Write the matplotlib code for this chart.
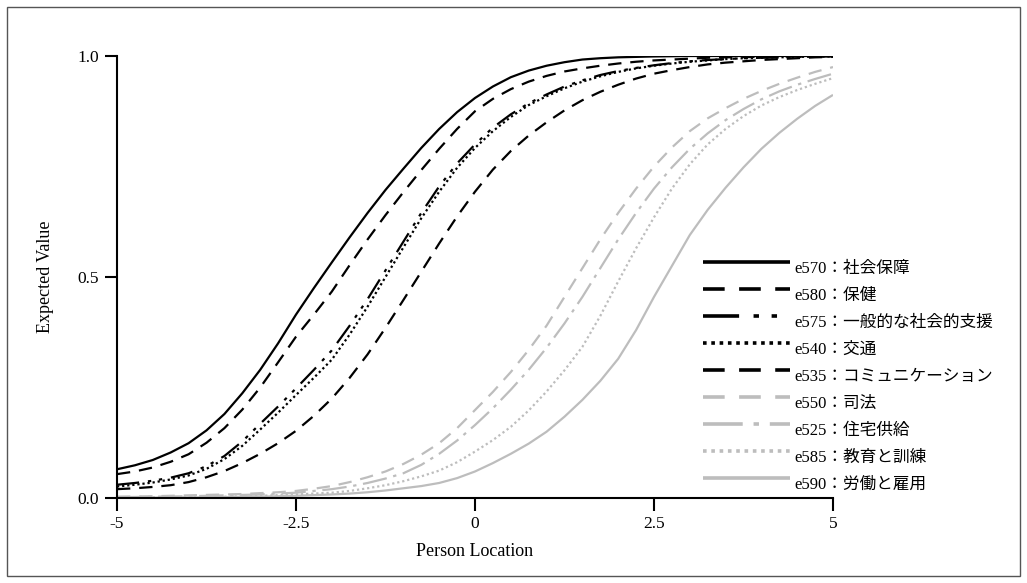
import matplotlib
matplotlib.use("Agg")
import numpy as np
import matplotlib.pyplot as plt
from matplotlib.patches import Rectangle
from matplotlib.legend_handler import HandlerLine2D

plt.rcParams['font.family'] = ['Liberation Serif', 'Noto Sans CJK JP']

# Person location grid (values at quarter steps)
x = [-5, -4.75, -4.5, -4.25, -4, -3.75, -3.5, -3.25, -3, -2.75, -2.5, -2.25, -2, -1.75, -1.5, -1.25,
     -1, -0.75, -0.5, -0.25, 0, 0.25, 0.5, 0.75, 1, 1.25, 1.5, 1.75, 2, 2.25, 2.5, 2.75, 3, 3.25,
     3.5, 3.75, 4, 4.25, 4.5, 4.75, 5]

e570 = [0.065, 0.074, 0.086, 0.103, 0.124, 0.153, 0.19, 0.237, 0.29, 0.35, 0.415, 0.475, 0.533, 0.59,
        0.645, 0.697, 0.745, 0.792, 0.835, 0.873, 0.905, 0.931, 0.952, 0.967, 0.978, 0.986, 0.992,
        0.995, 0.997, 0.998, 0.999, 0.9995, 1.0, 1.0, 1.0, 1.0, 1.0, 1.0, 1.0, 1.0, 1.0]
e580 = [0.054, 0.06, 0.069, 0.082, 0.099, 0.125, 0.158, 0.2, 0.25, 0.307, 0.365, 0.415, 0.467, 0.527,
        0.585, 0.64, 0.692, 0.742, 0.79, 0.835, 0.875, 0.903, 0.925, 0.942, 0.955, 0.965, 0.972,
        0.978, 0.983, 0.987, 0.99, 0.992, 0.994, 0.996, 0.997, 0.9975, 0.998, 0.9985, 0.999, 0.9995, 1.0]
e575 = [0.03, 0.034, 0.039, 0.046, 0.056, 0.072, 0.095, 0.128, 0.168, 0.207, 0.248, 0.29, 0.334, 0.39,
        0.45, 0.515, 0.58, 0.645, 0.705, 0.757, 0.8, 0.838, 0.868, 0.893, 0.913, 0.931, 0.945, 0.957,
        0.966, 0.973, 0.979, 0.984, 0.988, 0.991, 0.993, 0.995, 0.996, 0.997, 0.998, 0.9985, 0.999]
e540 = [0.026, 0.03, 0.035, 0.042, 0.051, 0.066, 0.088, 0.118, 0.155, 0.193, 0.233, 0.272, 0.313, 0.37,
        0.433, 0.5, 0.567, 0.633, 0.693, 0.747, 0.792, 0.83, 0.862, 0.889, 0.909, 0.927, 0.942, 0.954,
        0.964, 0.972, 0.978, 0.983, 0.987, 0.99, 0.993, 0.995, 0.996, 0.997, 0.998, 0.9985, 0.999]
e535 = [0.02, 0.022, 0.025, 0.029, 0.036, 0.047, 0.061, 0.079, 0.1, 0.124, 0.152, 0.186, 0.225, 0.272,
        0.325, 0.385, 0.448, 0.512, 0.576, 0.637, 0.693, 0.743, 0.785, 0.82, 0.85, 0.877, 0.9, 0.919,
        0.935, 0.949, 0.96, 0.968, 0.975, 0.981, 0.985, 0.988, 0.991, 0.993, 0.995, 0.997, 0.998]
e550 = [0.003, 0.0035, 0.004, 0.005, 0.006, 0.007, 0.008, 0.009, 0.011, 0.013, 0.016, 0.021, 0.027,
        0.036, 0.047, 0.06, 0.077, 0.098, 0.124, 0.158, 0.199, 0.24, 0.285, 0.335, 0.39, 0.455, 0.52,
        0.585, 0.645, 0.7, 0.75, 0.793, 0.83, 0.859, 0.882, 0.903, 0.921, 0.937, 0.951, 0.964, 0.975]
e525 = [0.002, 0.0023, 0.003, 0.0035, 0.004, 0.005, 0.006, 0.007, 0.008, 0.01, 0.012, 0.016, 0.02,
        0.026, 0.034, 0.044, 0.056, 0.075, 0.1, 0.13, 0.165, 0.203, 0.245, 0.29, 0.34, 0.395, 0.455,
        0.52, 0.585, 0.645, 0.7, 0.748, 0.79, 0.825, 0.855, 0.88, 0.902, 0.92, 0.935, 0.948, 0.96]
e585 = [0.001, 0.0012, 0.0015, 0.0018, 0.002, 0.0025, 0.003, 0.004, 0.005, 0.0065, 0.008, 0.01, 0.012,
        0.016, 0.022, 0.029, 0.038, 0.049, 0.062, 0.081, 0.105, 0.131, 0.161, 0.198, 0.241, 0.289,
        0.342, 0.412, 0.49, 0.565, 0.635, 0.7, 0.755, 0.8, 0.835, 0.864, 0.888, 0.907, 0.923, 0.937, 0.95]
e590 = [0.0005, 0.0006, 0.0008, 0.001, 0.0012, 0.0015, 0.002, 0.0025, 0.003, 0.004, 0.005, 0.0065,
        0.008, 0.01, 0.013, 0.017, 0.022, 0.027, 0.034, 0.045, 0.06, 0.079, 0.1, 0.123, 0.15, 0.184,
        0.222, 0.265, 0.315, 0.38, 0.455, 0.525, 0.595, 0.652, 0.702, 0.748, 0.79, 0.826, 0.858, 0.887, 0.912]

labels = ["e570：社会保障", "e580：保健", "e575：一般的な社会的支援", "e540：交通",
          "e535：コミュニケーション", "e550：司法", "e525：住宅供給", "e585：教育と訓練", "e590：労働と雇用"]
series = [e570, e580, e575, e540, e535, e550, e525, e585, e590]

BLACK = "black"
GRAY = "#bdbdbd"
styles = [
    (BLACK, None),
    (BLACK, (6, 4)),
    (BLACK, (10, 4, 1.5, 3.5, 1.5, 4)),
    (BLACK, (1, 1.3)),
    (BLACK, (6, 4)),
    (GRAY, (6, 4)),
    (GRAY, (11, 3, 1.5, 3)),
    (GRAY, (1, 1.3)),
    (GRAY, None),
]


class RaisedLineHandler(HandlerLine2D):
    def create_artists(self, legend, orig_handle, xdescent, ydescent, width, height, fontsize, trans):
        arts = super().create_artists(legend, orig_handle, xdescent, ydescent, width, height,
                                      fontsize, trans)
        for a in arts:
            a.set_ydata(np.asarray(a.get_ydata(), dtype=float) + 0.32 * fontsize)
        return arts


fig = plt.figure(figsize=(10.27, 5.83), dpi=100)
ax = fig.add_axes([117/1027, 1-498/583, (833-117)/1027, (498-56)/583])

for ys, lab, (col, dash) in zip(series, labels, styles):
    line, = ax.plot(x, ys, color=col, lw=1.6, label=lab, solid_capstyle='butt', dash_capstyle='butt')
    if dash is not None:
        line.set_dashes(dash)

ax.set_xlim(-5, 5)
ax.set_ylim(0, 1)
ax.set_xticks([-5, -2.5, 0, 2.5, 5])
ax.set_xticklabels(["-5", "-2.5", "0", "2.5", "5"])
ax.set_yticks([0, 0.5, 1.0])
ax.set_yticklabels(["0.0", "0.5", "1.0"])
for s in ["top", "right"]:
    ax.spines[s].set_visible(False)
for s in ["left", "bottom"]:
    ax.spines[s].set_linewidth(1.5)
ax.tick_params(direction='out', length=9, width=1.5, labelsize=12.5, pad=4)
ax.set_xlabel("Person Location", fontsize=13, labelpad=8)
ax.set_ylabel("Expected Value", fontsize=13, labelpad=17)

leg = ax.legend(loc='upper left', bbox_to_anchor=(703/1027, 1-261/583), bbox_transform=fig.transFigure,
                frameon=False, fontsize=12, handlelength=5.2, handletextpad=0.3,
                labelspacing=0.66, borderaxespad=0, borderpad=0,
                handler_map={matplotlib.lines.Line2D: RaisedLineHandler()})
for h in leg.get_lines():
    h.set_linewidth(2.6)

fig.patches.append(Rectangle((7/1027, 7/583), 1013/1027, 569/583, transform=fig.transFigure,
                             fill=False, edgecolor="#555555", lw=1.0))

fig.savefig("out.png", dpi=100)
